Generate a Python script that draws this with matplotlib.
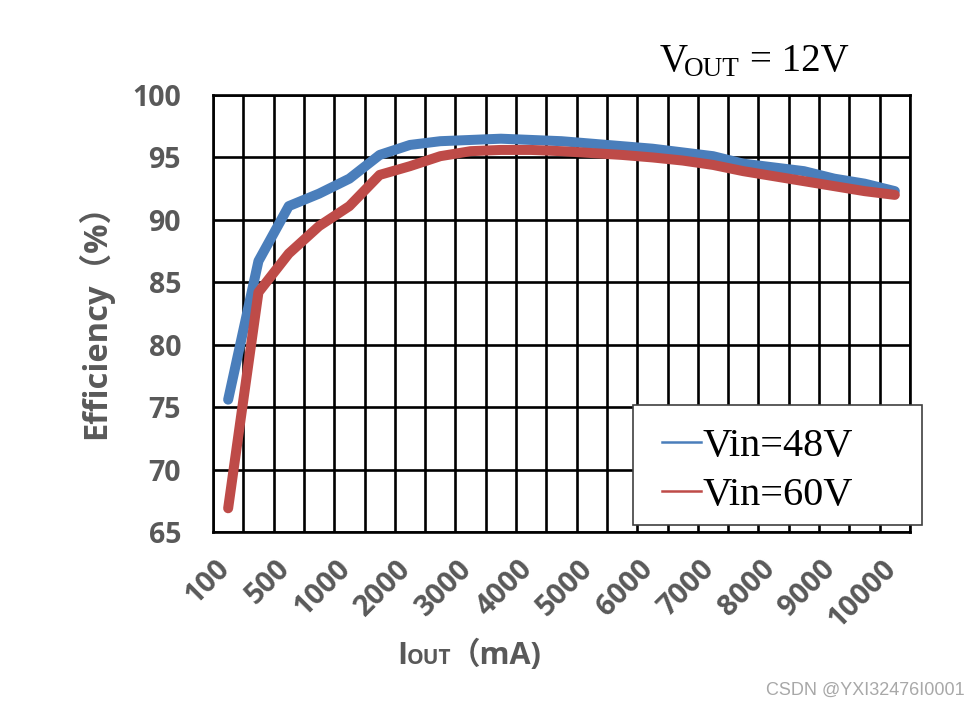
import matplotlib
matplotlib.use("Agg")
import matplotlib.pyplot as plt
from matplotlib.lines import Line2D
from matplotlib.patches import Rectangle

# ---- data ----
categories = ['100', '300', '500', '750', '1000', '1500', '2000', '2500', '3000', '3500',
              '4000', '4500', '5000', '5500', '6000', '6500', '7000', '7500', '8000',
              '8500', '9000', '9500', '10000']
vin48 = [75.6, 86.7, 91.1, 92.1, 93.3, 95.2, 96.0, 96.3, 96.4, 96.5, 96.4, 96.3,
         96.1, 95.9, 95.7, 95.4, 95.1, 94.5, 94.2, 93.9, 93.3, 92.9, 92.3]
vin60 = [66.9, 84.2, 87.3, 89.5, 91.1, 93.6, 94.3, 95.1, 95.5, 95.6, 95.6, 95.5,
         95.35, 95.2, 95.0, 94.75, 94.4, 93.9, 93.5, 93.1, 92.7, 92.3, 92.0]
series_names = ['Vin=48V', 'Vin=60V']
yticks = [65, 70, 75, 80, 85, 90, 95, 100]

W, H = 980, 705
fig = plt.figure(figsize=(W / 100, H / 100), dpi=100)
ax = fig.add_axes([213 / W, 1 - 532 / H, (910 - 213) / W, (532 - 95) / H])

def px(x, y):
    return (x / W, 1 - y / H)

blue = '#4A7EBB'
red = '#BE4B48'
gray = '#595959'
sans = ['Open Sans', 'Noto Sans CJK SC', 'DejaVu Sans']
serif = ['Liberation Serif', 'DejaVu Serif']

x = list(range(len(categories)))
ax.plot(x, vin48, color=blue, lw=7.2, solid_capstyle='round', solid_joinstyle='round', zorder=3)
ax.plot(x, vin60, color=red, lw=7.2, solid_capstyle='round', solid_joinstyle='round', zorder=3)

ax.set_xlim(-0.5, len(categories) - 0.5)
ax.set_ylim(65, 100)
ax.set_yticks(yticks)
ax.set_yticklabels([str(v) for v in yticks], fontfamily=sans, fontweight='bold',
                   fontsize=20.5, color=gray)
# labels on every other category; anchored slightly right of the category centre
label_offset = 0.23
ax.set_xticks([i + label_offset for i in x[::2]])
ax.set_xticklabels(categories[::2], rotation=45, ha='right', fontfamily=sans,
                   fontweight='bold', fontsize=21, color=gray)
ax.set_xticks([i - 0.5 for i in range(len(categories) + 1)], minor=True)
ax.tick_params(axis='both', which='both', length=0)
ax.tick_params(axis='y', pad=23)
ax.tick_params(axis='x', pad=16)
ax.grid(True, axis='x', which='minor', color='black', lw=1.9)
ax.grid(True, axis='y', which='major', color='black', lw=1.9)
ax.grid(False, axis='x', which='major')
ax.set_axisbelow(True)
for s in ax.spines.values():
    s.set_linewidth(1.9)
    s.set_color('black')

# y label
ax.set_ylabel('Efficiency（%）', fontfamily=sans, fontweight='bold', fontsize=23.5,
              color=gray, labelpad=14)

# x label: I OUT （mA)
fig.text(*px(397, 664), 'I', fontfamily=sans, fontweight='bold', fontsize=22,
         color=gray, va='baseline', ha='left')
fig.text(*px(407, 664), 'OUT', fontfamily=sans, fontweight='bold', fontsize=15,
         color=gray, va='baseline', ha='left')
fig.text(*px(450, 664), '（mA)', fontfamily=sans, fontweight='bold', fontsize=22,
         color=gray, va='baseline', ha='left')

# title V_OUT = 12V
fig.text(*px(660, 71), 'V', fontfamily=serif, fontsize=28, color='black',
         va='baseline', ha='left')
fig.text(*px(684, 76), 'OUT', fontfamily=serif, fontsize=19.5, color='black',
         va='baseline', ha='left')
fig.text(*px(750, 71), '= 12V', fontfamily=serif, fontsize=28, color='black',
         va='baseline', ha='left')

# legend frame + legend
fx0, fy0 = px(633, 525)
fig.patches.append(Rectangle((fx0, fy0), (922 - 633) / W, 120 / H, transform=fig.transFigure,
                             facecolor='white', edgecolor='#404040', lw=1.2, zorder=4))
handles = [Line2D([], [], color=blue, lw=1.8), Line2D([], [], color=red, lw=1.8)]
leg = fig.legend(handles, series_names, loc='upper left',
                 bbox_to_anchor=px(662, 428), bbox_transform=fig.transFigure,
                 borderaxespad=0, borderpad=0, frameon=False,
                 prop={'family': serif, 'size': 29},
                 handlelength=0.97, handletextpad=0.03, labelspacing=0.28)
leg.set_zorder(5)

# watermark
fig.text(*px(965, 690), 'CSDN @YXI32476I0001', fontfamily=['Liberation Sans', 'DejaVu Sans'],
         fontsize=13, color='#a8a8a8', ha='right', va='center')

fig.savefig('out.png', dpi=100)
